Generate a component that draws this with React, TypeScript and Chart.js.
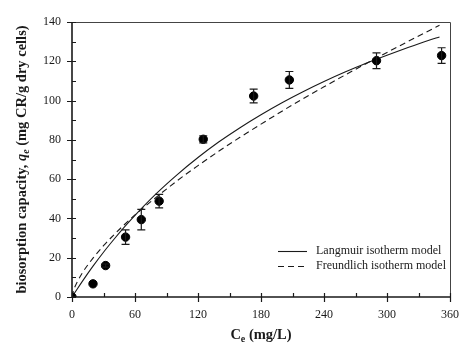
import React, { useEffect, useRef } from "react";
import { Chart, registerables } from "chart.js";

Chart.register(...registerables);

// Experimental data
const ceData = [0, 20, 32, 51, 66, 83, 125, 173, 207, 290, 352];
const qeData = [0, 6.7, 16, 30.5, 39.4, 48.8, 80.3, 102.3, 110.5, 120.3, 122.9];
const qeErr = [0, 0, 0.8, 3.7, 5.2, 3.4, 1.8, 3.5, 4.3, 4, 4];

// Model curves
const langmuirCe = [0, 5, 10, 20, 30, 40, 50, 60, 80, 100, 120, 140, 160, 180, 200, 220, 240, 260, 280, 300, 320, 340, 350];
const langmuirQe = [0, 4.1, 8.1, 15.7, 22.8, 29.4, 35.7, 41.6, 52.5, 62.2, 71.0, 79.0, 86.2, 92.8, 98.9, 104.5, 109.7, 114.5, 119.0, 123.1, 127.0, 130.7, 132.4];
const freundlichCe = [0, 1, 2, 5, 10, 20, 30, 40, 50, 60, 80, 100, 120, 140, 160, 180, 200, 220, 240, 260, 280, 300, 320, 340, 350];
const freundlichQe = [0, 2.6, 4.2, 7.7, 12.4, 19.8, 26.1, 31.7, 36.9, 41.8, 50.7, 59.1, 66.9, 74.3, 81.3, 88.0, 94.6, 100.9, 107.0, 113.0, 118.8, 124.5, 130.1, 135.6, 138.3];

const xTicks = [0, 60, 120, 180, 240, 300, 360];
const yTicks = [0, 20, 40, 60, 80, 100, 120, 140];
const legendLabels = ["Langmuir isotherm model", "Freundlich isotherm model"];

const SERIF = "'Liberation Serif', 'Times New Roman', serif";
const INK = "#1a1a1a";

const decorPlugin = {
  id: "decor",
  afterDatasetsDraw(chart: any) {
    const ctx = chart.ctx;
    const xs = chart.scales.x;
    const ys = chart.scales.y;
    ctx.save();
    ctx.strokeStyle = INK;
    ctx.lineWidth = 1.2;
    for (let i = 0; i < ceData.length; i++) {
      const e = qeErr[i];
      if (!e) continue;
      const px = xs.getPixelForValue(ceData[i]);
      const top = ys.getPixelForValue(qeData[i] + e);
      const bot = ys.getPixelForValue(qeData[i] - e);
      ctx.beginPath();
      ctx.moveTo(px, top);
      ctx.lineTo(px, bot);
      ctx.moveTo(px - 4, top);
      ctx.lineTo(px + 4, top);
      ctx.moveTo(px - 4, bot);
      ctx.lineTo(px + 4, bot);
      ctx.stroke();
    }
    ctx.restore();
  },
  afterDraw(chart: any) {
    const ctx = chart.ctx;
    const xs = chart.scales.x;
    const ys = chart.scales.y;
    const a = chart.chartArea;
    ctx.save();
    // frame
    ctx.strokeStyle = "#444";
    ctx.lineWidth = 1;
    ctx.beginPath();
    ctx.moveTo(a.left, a.top + 0.5);
    ctx.lineTo(a.right + 0.5, a.top + 0.5);
    ctx.lineTo(a.right + 0.5, a.bottom);
    ctx.stroke();
    // main axes
    ctx.strokeStyle = INK;
    ctx.lineWidth = 1.6;
    ctx.beginPath();
    ctx.moveTo(a.left, a.top);
    ctx.lineTo(a.left, a.bottom);
    ctx.lineTo(a.right + 1, a.bottom);
    ctx.stroke();
    // ticks
    ctx.lineWidth = 1.2;
    ctx.beginPath();
    for (let v = 0; v <= 140; v += 10) {
      const py = Math.round(ys.getPixelForValue(v)) + 0.5;
      const major = v % 20 === 0;
      ctx.moveTo(a.left - (major ? 5 : 0), py);
      ctx.lineTo(a.left + 4, py);
    }
    for (let v = 0; v <= 360; v += 30) {
      const px = Math.round(xs.getPixelForValue(v)) + 0.5;
      const major = v % 60 === 0;
      ctx.moveTo(px, a.bottom - 4);
      ctx.lineTo(px, a.bottom + (major ? 5 : 0));
    }
    ctx.stroke();

    // legend
    const lx0 = 278, lx1 = 307, tx = 316;
    const ly = [251, 266];
    ctx.lineWidth = 1.1;
    ctx.strokeStyle = INK;
    for (let i = 0; i < 2; i++) {
      ctx.setLineDash(i === 0 ? [] : [6, 4]);
      ctx.beginPath();
      ctx.moveTo(lx0, ly[i] + 0.5);
      ctx.lineTo(lx1, ly[i] + 0.5);
      ctx.stroke();
    }
    ctx.setLineDash([]);
    ctx.fillStyle = INK;
    ctx.font = `12px ${SERIF}`;
    ctx.textAlign = "left";
    ctx.textBaseline = "middle";
    for (let i = 0; i < 2; i++) ctx.fillText(legendLabels[i], tx, ly[i]);

    // titles
    const drawRich = (parts: { t: string; f: string; dy: number }[], cx: number, cy: number) => {
      let total = 0;
      for (const p of parts) {
        ctx.font = p.f;
        total += ctx.measureText(p.t).width;
      }
      let x = cx - total / 2;
      ctx.textAlign = "left";
      ctx.textBaseline = "alphabetic";
      for (const p of parts) {
        ctx.font = p.f;
        ctx.fillText(p.t, x, cy + p.dy);
        x += ctx.measureText(p.t).width;
      }
    };
    const B = `bold 14.5px ${SERIF}`;
    const Bs = `bold 10px ${SERIF}`;
    const BI = `italic bold 14.5px ${SERIF}`;
    const BIs = `italic bold 10px ${SERIF}`;
    drawRich(
      [
        { t: "C", f: B, dy: 0 },
        { t: "e", f: Bs, dy: 3 },
        { t: " (mg/L)", f: B, dy: 0 },
      ],
      (a.left + a.right) / 2,
      339
    );
    ctx.save();
    ctx.translate(26, (a.top + a.bottom) / 2);
    ctx.rotate(-Math.PI / 2);
    drawRich(
      [
        { t: "biosorption capacity, ", f: B, dy: 0 },
        { t: "q", f: BI, dy: 0 },
        { t: "e", f: BIs, dy: 3 },
        { t: " (mg CR/g dry cells)", f: B, dy: 0 },
      ],
      0,
      0
    );
    ctx.restore();
    ctx.restore();
  },
};

export default function App() {
  const ref = useRef<HTMLCanvasElement | null>(null);
  useEffect(() => {
    document.body.style.margin = "0";
    const canvas = ref.current;
    if (!canvas) return;
    const chart = new Chart(canvas, {
      type: "scatter",
      data: {
        datasets: [
          {
            label: "data",
            data: ceData.map((x, i) => ({ x, y: qeData[i] })),
            backgroundColor: "#000",
            borderColor: "#000",
            pointRadius: 4.2,
            pointHoverRadius: 4.2,
            showLine: false,
          },
          {
            label: legendLabels[0],
            data: langmuirCe.map((x, i) => ({ x, y: langmuirQe[i] })),
            borderColor: INK,
            borderWidth: 1.1,
            pointRadius: 0,
            showLine: true,
            cubicInterpolationMode: "monotone",
          },
          {
            label: legendLabels[1],
            data: freundlichCe.map((x, i) => ({ x, y: freundlichQe[i] })),
            borderColor: INK,
            borderWidth: 1.1,
            borderDash: [6, 4],
            pointRadius: 0,
            showLine: true,
            cubicInterpolationMode: "monotone",
          },
        ],
      } as any,
      options: {
        animation: false,
        responsive: false,
        devicePixelRatio: 1,
        layout: { padding: { top: 22, right: 17, left: 0, bottom: 0 } },
        plugins: { legend: { display: false }, tooltip: { enabled: false } },
        scales: {
          x: {
            type: "linear",
            min: 0,
            max: 360,
            afterBuildTicks: (s: any) => {
              s.ticks = xTicks.map((v) => ({ value: v }));
            },
            afterFit: (s: any) => {
              s.height = 60;
            },
            ticks: { font: { family: SERIF, size: 12 }, color: INK, padding: 11, maxRotation: 0 },
            grid: { display: false, drawTicks: false },
            border: { display: false },
          },
          y: {
            type: "linear",
            min: 0,
            max: 140,
            afterBuildTicks: (s: any) => {
              s.ticks = yTicks.map((v) => ({ value: v }));
            },
            afterFit: (s: any) => {
              s.width = 72;
            },
            ticks: { font: { family: SERIF, size: 12 }, color: INK, padding: 11 },
            grid: { display: false, drawTicks: false },
            border: { display: false },
          },
        },
      } as any,
      plugins: [decorPlugin],
    });
    return () => chart.destroy();
  }, []);
  return (
    <div style={{ width: 470, height: 357, background: "#fff" }}>
      <canvas ref={ref} width={470} height={357} style={{ display: "block" }} />
    </div>
  );
}
